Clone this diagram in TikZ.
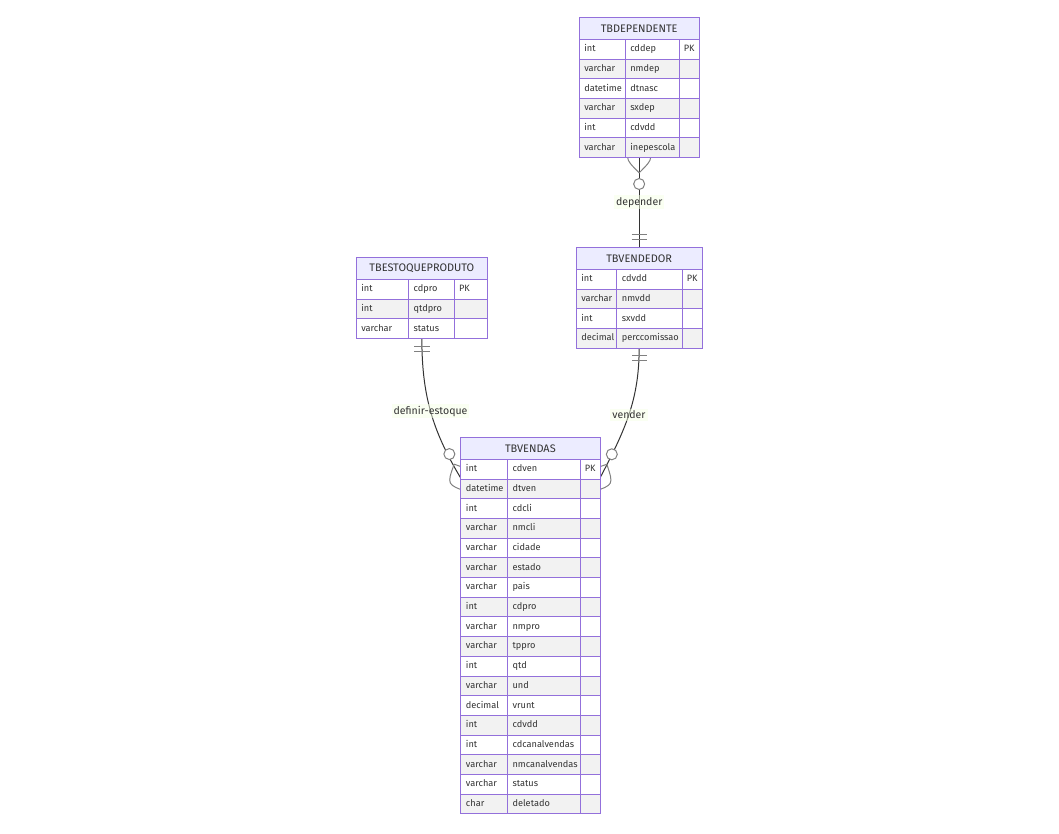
\documentclass[tikz,border=0pt]{standalone}
\usepackage{fontspec}
\setmainfont{Fira Sans}
\usetikzlibrary{calc,backgrounds}
\definecolor{erpurple}{HTML}{9370DB}
\definecolor{erhead}{HTML}{ECECFF}
\definecolor{errow}{HTML}{F2F2F2}
\definecolor{ertext}{HTML}{333333}
\definecolor{erline}{HTML}{333333}
\definecolor{ermark}{HTML}{808080}
\definecolor{erlabel}{HTML}{F6FFE6}
\tikzset{
  cell/.style={draw=erpurple, line width=0.75pt},
  hdr/.style={draw=erpurple, fill=erhead, line width=0.75pt, inner sep=0pt, outer sep=0pt, text=ertext, font=\fontsize{8.2}{9}\selectfont},
  frame/.style={draw=erpurple, line width=0.75pt, inner sep=0pt, outer sep=0pt},
  attr/.style={anchor=west, inner sep=0pt, text=ertext, text height=5.2pt, text depth=1.4pt, font=\fontsize{6.9}{8}\selectfont},
  rel/.style={draw=erline, line width=0.75pt},
  mk/.style={draw=ermark, line width=0.75pt},
  rlabel/.style={fill=erlabel, fill opacity=0.5, text opacity=1, text=ertext, inner sep=1.5pt, font=\fontsize{7.9}{10}\selectfont},
}
\newcommand{\ertable}[9]{%
  \pgfmathsetmacro{\erhb}{#6+22}
  \pgfmathsetmacro{\erbt}{#6+22+#9*19.7}
  \foreach \ty/\nm/\ky [count=\i] in {#8} {
    \pgfmathsetmacro{\yt}{\erhb+(\i-1)*19.7}
    \pgfmathsetmacro{\yb}{\erhb+\i*19.7}
    \ifodd\i\relax \def\rc{white}\else \def\rc{errow}\fi
    \fill[\rc] (#2,\yt) rectangle (#5,\yb);
  }
  \foreach \ty/\nm/\ky [count=\i] in {#8} {
    \pgfmathsetmacro{\yb}{\erhb+\i*19.7}
    \pgfmathsetmacro{\ym}{\erhb+(\i-0.5)*19.7}
    \draw[cell] (#2,\yb) -- (#5,\yb);
    \node[attr] (#1-t\i) at ({#2+5},\ym) {\ty};
    \node[attr] (#1-n\i) at ({#3+5},\ym) {\nm};
    \node[attr] (#1-k\i) at ({#4+4.5},\ym) {\ky};
  }
  \draw[cell] (#3,\erhb) -- (#3,\erbt) (#4,\erhb) -- (#4,\erbt);
  \node[hdr, minimum width={(#5-#2)*0.75pt}, minimum height={22*0.75pt}, anchor=north west] (#1-title) at (#2,#6) {#7};
  \node[frame, minimum width={(#5-#2)*0.75pt}, minimum height={(22+#9*19.7)*0.75pt}, anchor=north west] (#1) at (#2,#6) {};
}
\newcommand{\zeromany}[3]{%
  \draw[mk] ($(#1)+({-15.3*(#2)},{-15.3*(#3)})$) .. controls ($(#1)+({15.3*(#3)},{-15.3*(#2)})$) .. ($(#1)+({15.3*(#2)},{15.3*(#3)})$) .. controls ($(#1)+({-15.3*(#3)},{15.3*(#2)})$) .. ($(#1)+({-15.3*(#2)},{-15.3*(#3)})$);
  \draw[mk, fill=white] ($(#1)+({26.5*(#2)},{26.5*(#3)})$) circle[radius=5.5];
}
\newcommand{\onlyone}[3]{%
  \draw[mk] ($(#1)+({7.65*(#2)+7.65*(#3)},{7.65*(#3)-7.65*(#2)})$) -- ($(#1)+({7.65*(#2)-7.65*(#3)},{7.65*(#3)+7.65*(#2)})$);
  \draw[mk] ($(#1)+({12.75*(#2)+7.65*(#3)},{12.75*(#3)-7.65*(#2)})$) -- ($(#1)+({12.75*(#2)-7.65*(#3)},{12.75*(#3)+7.65*(#2)})$);
}
\begin{document}
\begin{tikzpicture}[x=0.75pt,y=-0.75pt]
\useasboundingbox (0,0) rectangle (1059,833);

\ertable{TBDEPENDENTE}{579}{625}{679}{699.3}{17.3}{TBDEPENDENTE}{int/cddep/PK, varchar/nmdep/{}, datetime/dtnasc/{}, varchar/sxdep/{}, int/cdvdd/{}, varchar/inepescola/{}}{6}

\ertable{TBVENDEDOR}{576}{616.7}{682}{702.3}{247.3}{TBVENDEDOR}{int/cdvdd/PK, varchar/nmvdd/{}, int/sxvdd/{}, decimal/perccomissao/{}}{4}

\ertable{TBESTOQUEPRODUTO}{356}{408.3}{454.3}{487.7}{257.3}{TBESTOQUEPRODUTO}{int/cdpro/PK, int/qtdpro/{}, varchar/status/{}}{3}

\ertable{TBVENDAS}{460.7}{507.3}{580}{600}{437.3}{TBVENDAS}{int/cdven/PK, datetime/dtven/{}, int/cdcli/{}, varchar/nmcli/{}, varchar/cidade/{}, varchar/estado/{}, varchar/pais/{}, int/cdpro/{}, varchar/nmpro/{}, varchar/tppro/{}, int/qtd/{}, varchar/und/{}, decimal/vrunt/{}, int/cdvdd/{}, int/cdcanalvendas/{}, varchar/nmcanalvendas/{}, varchar/status/{}, char/deletado/{}}{18}

\begin{pgfonlayer}{background}
  \coordinate (vL) at ($(TBVENDAS.north west)+(0,40.7)$);
  \coordinate (vR) at ($(TBVENDAS.north east)+(0,40.7)$);
  \draw[rel] (TBDEPENDENTE.south) -- (TBVENDEDOR.north) node[rlabel, pos=0.5] (lbldep) {depender};
  \draw[rel] (TBESTOQUEPRODUTO.south) .. controls +(0,56) and +(-28.7,-48) .. (vL) node[rlabel, pos=0.5] (lblest) {definir-estoque};
  \draw[rel] (TBVENDEDOR.south) .. controls +(0,52) and +(25,-48) .. (vR) node[rlabel, pos=0.5] (lblven) {vender};
  \zeromany{TBDEPENDENTE.south}{0}{1}
  \onlyone{TBVENDEDOR.north}{0}{-1}
  \onlyone{TBESTOQUEPRODUTO.south}{0}{1}
  \onlyone{TBVENDEDOR.south}{0}{1}
  \zeromany{vL}{-0.428}{-0.904}
  \zeromany{vR}{0.446}{-0.895}
\end{pgfonlayer}
\end{tikzpicture}
\end{document}
